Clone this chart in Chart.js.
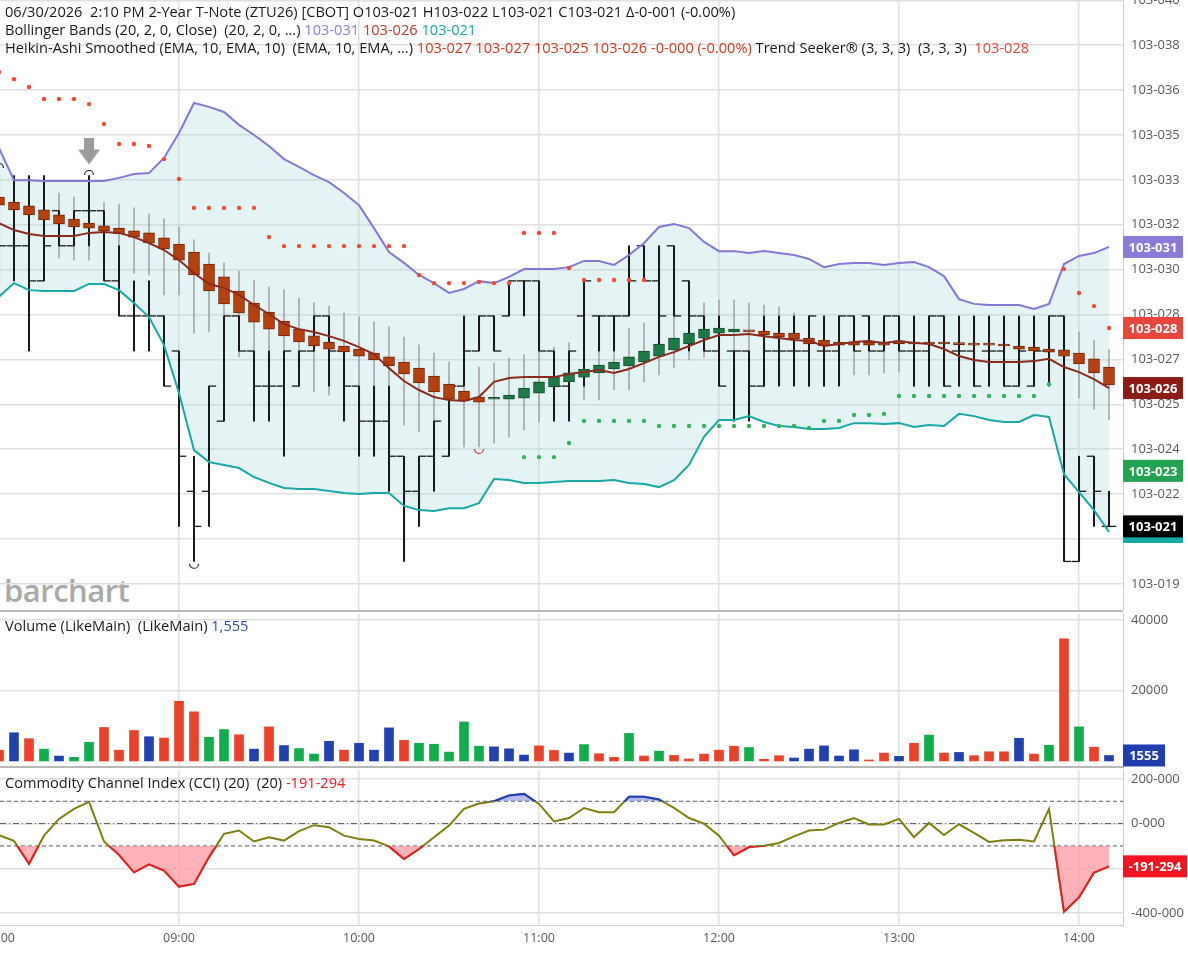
<!DOCTYPE html>
<html>
<head>
<meta charset="utf-8">
<title>ZTU26 chart</title>
<script src="https://cdn.jsdelivr.net/npm/chart.js@4.4.1/dist/chart.umd.min.js"></script>
<style>
body { margin: 0; background: #fff; }
#page { position: relative; width: 1188px; height: 953px; overflow: hidden; font-family: "Open Sans", sans-serif; }
.pane { position: absolute; left: -40px; width: 1228px; }
.legend { position: absolute; left: 5px; font-size: 14.6px; line-height: 18px; color: #1a1a1a; white-space: pre; z-index: 3; }
.sep { position: absolute; left: 0; width: 1123px; height: 2px; background: #b8b8b8; z-index: 2; }
#wm { position: absolute; left: 4px; top: 573px; font-size: 31px; line-height: 34px; font-weight: 600; color: #a9a9a9; letter-spacing: -0.5px; }
</style>
</head>
<body>
<div id="page">
  <div id="wm">barchart</div>
  <div class="pane" style="top:-20px;height:650px"><canvas id="priceChart"></canvas></div>
  <div class="pane" style="top:593px;height:195px"><canvas id="volChart"></canvas></div>
  <div class="pane" style="top:750px;height:203px"><canvas id="cciChart"></canvas></div>
  <div class="sep" style="top:610px"></div>
  <div class="sep" style="top:766px"></div>

  <div class="legend" style="top:2px">06/30/2026  2:10 PM 2-Year T-Note (ZTU26) [CBOT] O103-021 H103-022 L103-021 C103-021 Δ-0-001 (-0.00%)</div>
  <div class="legend" style="top:20px">Bollinger Bands (20, 2, 0, Close)  (20, 2, 0, ...) <span style="color:#8a7fd8">103-031</span> <span style="color:#c0392b">103-026</span> <span style="color:#14a8a0">103-021</span></div>
  <div class="legend" style="top:38px">Heikin-Ashi Smoothed (EMA, 10, EMA, 10)  (EMA, 10, EMA, ...) <span style="color:#cf3b22">103-027 103-027 103-025 103-026 -0-000 (-0.00%)</span> Trend Seeker® (3, 3, 3)  (3, 3, 3)  <span style="color:#e8453c">103-028</span></div>
  <div class="legend" style="top:616px">Volume (LikeMain)  (LikeMain) <span style="color:#2c4aa8">1,555</span></div>
  <div class="legend" style="top:773px">Commodity Channel Index (CCI) (20)  (20) <span style="color:#e8202a">-191-294</span></div>
</div>

<script>
// 5-minute bars, 08:00 .. 14:10; prices are 32nds above 103
const timeLabels = ['08:00', '09:00', '10:00', '11:00', '12:00', '13:00', '14:00'];
const hourBars = [0, 12, 24, 36, 48, 60, 72];

const barOpen = [
  3.125, 3.125, 3.125, 3.0, 3.25, 3.125, 3.25, 3.25, 3.0, 2.875,
  2.875, 2.875, 2.75, 2.25, 2.25, 2.5, 2.875, 2.75, 2.625, 2.625,
  2.625, 2.75, 2.875, 2.75, 2.625, 2.5, 2.5, 2.375, 2.25, 2.375,
  2.375, 2.625, 2.75, 2.875, 2.875, 3.0, 3.0, 2.75, 2.625, 2.875,
  2.875, 2.875, 2.875, 3.125, 3.0, 3.125, 3.0, 2.875, 2.75, 2.75,
  2.75, 2.625, 2.75, 2.75, 2.75, 2.75, 2.75, 2.875, 2.875, 2.75,
  2.875, 2.75, 2.75, 2.875, 2.75, 2.75, 2.75, 2.75, 2.625, 2.625,
  2.75, 2.875, 2.0, 2.375, 2.125
];
const barHigh = [
  3.375, 3.375, 3.375, 3.375, 3.25, 3.25, 3.375, 3.25, 3.125, 3.0,
  3.0, 2.875, 2.75, 2.375, 2.625, 2.875, 2.875, 2.75, 2.75, 2.75,
  2.75, 2.875, 2.875, 2.75, 2.625, 2.625, 2.625, 2.375, 2.375, 2.5,
  2.625, 2.875, 2.875, 2.875, 3.0, 3.0, 3.0, 2.75, 2.75, 3.0,
  2.875, 2.875, 3.125, 3.125, 3.125, 3.125, 3.0, 2.875, 2.875, 2.75,
  2.75, 2.875, 2.875, 2.875, 2.875, 2.875, 2.875, 2.875, 2.875, 2.875,
  2.875, 2.875, 2.875, 2.875, 2.875, 2.875, 2.875, 2.875, 2.875, 2.875,
  2.875, 2.875, 2.375, 2.375, 2.25
];
const barLow = [
  3.0, 3.0, 2.75, 3.0, 3.125, 3.125, 3.125, 3.0, 2.875, 2.75,
  2.75, 2.625, 2.125, 2.0, 2.125, 2.5, 2.75, 2.5, 2.5, 2.375,
  2.625, 2.75, 2.625, 2.5, 2.375, 2.375, 2.25, 2.0, 2.125, 2.25,
  2.375, 2.625, 2.75, 2.75, 2.875, 2.875, 2.75, 2.5, 2.5, 2.625,
  2.75, 2.75, 2.875, 3.0, 2.75, 2.875, 2.75, 2.75, 2.625, 2.5,
  2.5, 2.625, 2.625, 2.625, 2.625, 2.625, 2.625, 2.75, 2.75, 2.75,
  2.75, 2.625, 2.625, 2.625, 2.625, 2.625, 2.625, 2.625, 2.625, 2.625,
  2.625, 2.0, 2.0, 2.125, 2.125
];
const barClose = [
  3.125, 3.125, 3.0, 3.125, 3.125, 3.25, 3.25, 3.0, 2.875, 2.875,
  2.875, 2.625, 2.375, 2.125, 2.625, 2.875, 2.75, 2.625, 2.625, 2.75,
  2.75, 2.875, 2.75, 2.625, 2.5, 2.5, 2.375, 2.25, 2.375, 2.5,
  2.625, 2.75, 2.875, 2.75, 3.0, 3.0, 2.75, 2.625, 2.75, 3.0,
  2.875, 2.875, 3.0, 3.0, 2.875, 2.875, 2.875, 2.75, 2.625, 2.75,
  2.625, 2.75, 2.75, 2.75, 2.875, 2.75, 2.875, 2.75, 2.75, 2.875,
  2.75, 2.75, 2.875, 2.625, 2.75, 2.625, 2.75, 2.625, 2.75, 2.75,
  2.875, 2.0, 2.25, 2.25, 2.125
];

// Heikin-Ashi smoothed candles
const haOpen = [
  3.299, 3.281, 3.267, 3.253, 3.235, 3.220, 3.206, 3.196, 3.188, 3.178,
  3.171, 3.153, 3.131, 3.103, 3.060, 3.014, 2.964, 2.921, 2.889, 2.857,
  2.828, 2.804, 2.782, 2.768, 2.757, 2.743, 2.729, 2.711, 2.689, 2.661,
  2.632, 2.607, 2.586, 2.578, 2.578, 2.582, 2.600, 2.622, 2.640, 2.657,
  2.672, 2.686, 2.697, 2.711, 2.732, 2.754, 2.775, 2.796, 2.814, 2.818,
  2.825, 2.821, 2.814, 2.814, 2.796, 2.789, 2.782, 2.782, 2.782, 2.779,
  2.786, 2.779, 2.778, 2.778, 2.777, 2.775, 2.775, 2.775, 2.768, 2.764,
  2.757, 2.754, 2.743, 2.722, 2.693
];
const haClose = [
  3.270, 3.253, 3.235, 3.217, 3.203, 3.192, 3.188, 3.178, 3.167, 3.156,
  3.135, 3.114, 3.074, 3.021, 2.964, 2.918, 2.886, 2.853, 2.828, 2.804,
  2.782, 2.768, 2.757, 2.747, 2.732, 2.718, 2.697, 2.668, 2.636, 2.604,
  2.578, 2.572, 2.568, 2.578, 2.593, 2.618, 2.640, 2.657, 2.672, 2.686,
  2.700, 2.711, 2.729, 2.750, 2.775, 2.796, 2.814, 2.828, 2.832, 2.828,
  2.818, 2.807, 2.800, 2.793, 2.775, 2.768, 2.771, 2.771, 2.771, 2.771,
  2.775, 2.775, 2.775, 2.775, 2.773, 2.771, 2.771, 2.768, 2.757, 2.750,
  2.746, 2.732, 2.704, 2.672, 2.629
];
const haHigh = [
  3.359, 3.348, 3.338, 3.327, 3.313, 3.299, 3.288, 3.281, 3.274, 3.260,
  3.238, 3.221, 3.192, 3.146, 3.099, 3.064, 3.035, 3.003, 2.978, 2.968,
  2.939, 2.921, 2.910, 2.886, 2.872, 2.854, 2.836, 2.800, 2.772, 2.743,
  2.711, 2.700, 2.693, 2.707, 2.725, 2.736, 2.747, 2.764, 2.779, 2.779,
  2.789, 2.807, 2.832, 2.850, 2.871, 2.896, 2.907, 2.921, 2.932, 2.932,
  2.921, 2.914, 2.907, 2.886, 2.875, 2.875, 2.875, 2.868, 2.868, 2.868,
  2.875, 2.868, 2.868, 2.868, 2.860, 2.860, 2.853, 2.853, 2.843, 2.836,
  2.860, 2.860, 2.818, 2.789, 2.754
];
const haLow = [
  3.128, 3.117, 3.103, 3.085, 3.082, 3.074, 3.074, 3.067, 3.039, 3.028,
  3.021, 2.950, 2.950, 2.814, 2.818, 2.743, 2.729, 2.700, 2.675, 2.629,
  2.622, 2.604, 2.593, 2.576, 2.558, 2.541, 2.505, 2.487, 2.462, 2.433,
  2.408, 2.408, 2.408, 2.422, 2.444, 2.469, 2.497, 2.522, 2.540, 2.576,
  2.576, 2.611, 2.611, 2.640, 2.665, 2.690, 2.718, 2.725, 2.718, 2.700,
  2.675, 2.622, 2.629, 2.629, 2.622, 2.622, 2.672, 2.665, 2.665, 2.672,
  2.675, 2.622, 2.622, 2.622, 2.622, 2.622, 2.622, 2.622, 2.622, 2.622,
  2.629, 2.611, 2.583, 2.544, 2.505
];

// Bollinger Bands (20, 2)
const bbUpper = [
  3.474, 3.359, 3.359, 3.356, 3.356, 3.356, 3.356, 3.356, 3.367, 3.381,
  3.384, 3.438, 3.527, 3.634, 3.620, 3.602, 3.556, 3.520, 3.481, 3.434,
  3.406, 3.377, 3.352, 3.313, 3.270, 3.188, 3.103, 3.064, 3.021, 2.992,
  2.957, 2.971, 2.999, 2.992, 3.014, 3.042, 3.042, 3.042, 3.049, 3.071,
  3.071, 3.057, 3.092, 3.135, 3.192, 3.203, 3.188, 3.139, 3.106, 3.106,
  3.099, 3.106, 3.099, 3.092, 3.078, 3.049, 3.060, 3.064, 3.064, 3.057,
  3.064, 3.067, 3.049, 3.017, 2.935, 2.918, 2.914, 2.914, 2.914, 2.900,
  2.918, 3.060, 3.089, 3.099, 3.121
];
const bbMiddle = [
  3.206, 3.181, 3.167, 3.160, 3.160, 3.160, 3.171, 3.174, 3.171, 3.156,
  3.135, 3.110, 3.074, 3.028, 2.989, 2.975, 2.950, 2.914, 2.882, 2.846,
  2.828, 2.818, 2.803, 2.786, 2.764, 2.739, 2.689, 2.643, 2.611, 2.586,
  2.575, 2.572, 2.586, 2.640, 2.654, 2.657, 2.657, 2.657, 2.668, 2.675,
  2.682, 2.672, 2.686, 2.707, 2.729, 2.746, 2.768, 2.789, 2.807, 2.807,
  2.811, 2.803, 2.796, 2.789, 2.786, 2.768, 2.775, 2.782, 2.786, 2.779,
  2.786, 2.779, 2.775, 2.757, 2.732, 2.718, 2.711, 2.711, 2.711, 2.714,
  2.722, 2.693, 2.675, 2.650, 2.618
];
const bbLower = [
  2.943, 2.992, 2.967, 2.964, 2.964, 2.964, 2.989, 2.989, 2.967, 2.921,
  2.871, 2.771, 2.600, 2.397, 2.354, 2.344, 2.333, 2.301, 2.280, 2.262,
  2.258, 2.258, 2.251, 2.244, 2.240, 2.244, 2.244, 2.198, 2.183, 2.180,
  2.190, 2.190, 2.208, 2.294, 2.290, 2.280, 2.280, 2.283, 2.287, 2.287,
  2.287, 2.290, 2.280, 2.276, 2.265, 2.290, 2.344, 2.444, 2.504, 2.504,
  2.518, 2.497, 2.483, 2.479, 2.472, 2.472, 2.476, 2.493, 2.493, 2.490,
  2.493, 2.479, 2.486, 2.483, 2.526, 2.518, 2.504, 2.497, 2.497, 2.522,
  2.515, 2.311, 2.247, 2.183, 2.105
];

// Trend Seeker stops
const tsRed = [
  3.744, 3.719, 3.691, 3.648, 3.648, 3.648, 3.630, 3.559, 3.488, 3.488,
  3.481, 3.434, 3.363, 3.260, 3.260, 3.260, 3.260, 3.260, 3.156, 3.124,
  3.124, 3.124, 3.124, 3.124, 3.124, 3.124, 3.124, 3.124, 3.021, 2.992,
  2.992, 2.992, 2.996, 2.992, 2.992, 3.171, 3.171, 3.171, 3.046, 3.003,
  3.003, 3.003, 3.003, 3.003, null, null, null, null, null, null,
  null, null, null, null, null, null, null, null, null, null,
  null, null, null, null, null, null, null, null, null, null,
  null, 3.042, 2.957, 2.910, 2.832
];
const tsGreen = [
  null, null, null, null, null, null, null, null, null, null,
  null, null, null, null, null, null, null, null, null, null,
  null, null, null, null, null, null, null, null, null, null,
  null, null, null, null, null, 2.372, 2.372, 2.372, 2.422, 2.501,
  2.501, 2.501, 2.501, 2.501, 2.483, 2.483, 2.483, 2.483, 2.483, 2.483,
  2.483, 2.483, 2.483, 2.483, 2.476, 2.501, 2.501, 2.522, 2.522, 2.526,
  2.590, 2.590, 2.590, 2.590, 2.590, 2.590, 2.590, 2.590, 2.590, 2.590,
  2.632, null, null, null, null
];

const volume = [
  3070, 8000, 6330, 3350, 1400, 1020, 5300, 9490, 3070, 8650,
  6880, 6510, 16930, 13950, 6700, 8930, 7440, 3350, 9670, 4370,
  3530, 1950, 5580, 3070, 5020, 3070, 9400, 5860, 5020, 4740,
  2510, 11070, 4190, 4000, 3440, 1670, 4280, 2980, 2230, 4650,
  2050, 1020, 7810, 1400, 2790, 1580, 560, 1950, 3070, 4190,
  3810, 470, 1490, 840, 3350, 4280, 1400, 3160, 280, 2230,
  1300, 5020, 7350, 2230, 2420, 1490, 2600, 2600, 6420, 1950,
  4460, 34700, 9670, 3910, 1555
];
const volDir = [
  'dn', 'eq', 'dn', 'up', 'eq', 'up', 'up', 'dn', 'dn', 'dn',
  'eq', 'dn', 'dn', 'dn', 'up', 'up', 'dn', 'eq', 'dn', 'eq',
  'up', 'up', 'eq', 'dn', 'eq', 'eq', 'eq', 'dn', 'up', 'up',
  'up', 'up', 'up', 'eq', 'eq', 'eq', 'dn', 'dn', 'eq', 'up',
  'dn', 'dn', 'up', 'dn', 'up', 'dn', 'dn', 'dn', 'dn', 'dn',
  'up', 'dn', 'dn', 'eq', 'eq', 'eq', 'eq', 'eq', 'dn', 'dn',
  'eq', 'dn', 'up', 'dn', 'eq', 'dn', 'dn', 'dn', 'eq', 'dn',
  'up', 'dn', 'up', 'dn', 'eq'
];

const cci = [
  -52, -77, -180, -54, 21, 66, 97, -80, -140, -218,
  -182, -210, -282, -270, -150, -46, -31, -80, -61, -76,
  -34, -7, -16, -54, -69, -76, -102, -159, -114, -61,
  -9, 66, 90, 100, 126, 133, 88, 10, 25, 70,
  51, 51, 120, 120, 108, 70, 25, 0, -54, -142,
  -105, -99, -87, -57, -31, -27, 3, 25, -4, -4,
  21, -61, 3, -51, -3, -42, -82, -75, -72, -80,
  66, -394, -330, -219, -191.294
];

const priceTicks = [1.92, 2.08, 2.24, 2.40, 2.56, 2.72, 2.88, 3.04, 3.20, 3.36, 3.52, 3.68, 3.84, 4.00];
const priceTickLabels = ['103-019', '103-020', '103-022', '103-024', '103-025', '103-027', '103-028',
  '103-030', '103-032', '103-033', '103-035', '103-036', '103-038', '103-040'];
const volTicks = [20000, 40000];
const volTickLabels = ['20000', '40000'];
const cciTicks = [-400, -200, 0, 200];
const cciTickLabels = ['-400-000', '-200-000', '0-000', '200-000'];
const cciLevels = [100, 0, -100];

// swing markers
const swingHighs = [{bar: 0, value: 3.413}, {bar: 6, value: 3.388}];
const swingLows = [{bar: 13, value: 1.981}];
const haSwingLows = [{bar: 32, value: 2.390}];
const signalArrows = [{bar: 6, value: 3.461}];

const X_MIN = 1 / 15, X_MAX = 74.933;
const GRID = '#e0e0e0';
const AXIS_TEXT = '#5a5a5a';
const PAD = 20;

Chart.defaults.font.family = '"Open Sans", sans-serif';
Chart.defaults.font.size = 13;

const idx = barOpen.map((_, i) => i);
const pts = arr => arr.map((v, i) => ({x: i, y: v})).filter(p => p.y !== null);

function xAxis(showLabels) {
  return {
    type: 'linear', min: X_MIN, max: X_MAX, offset: false,
    afterBuildTicks: s => { s.ticks = hourBars.map(v => ({value: v})); },
    afterFit: showLabels ? (s => { s.height = 28; }) : undefined,
    grid: {color: GRID, lineWidth: 1.5, drawTicks: false, offset: false},
    border: {display: showLabels, color: '#cccccc'},
    ticks: {
      display: showLabels, color: AXIS_TEXT, padding: 6, maxRotation: 0, autoSkip: false,
      font: {size: 12.5},
      callback: (v, i) => timeLabels[i]
    }
  };
}

function yAxis(min, max, ticks, labels) {
  return {
    position: 'right', min: min, max: max,
    afterBuildTicks: s => { s.ticks = ticks.map(v => ({value: v})); },
    afterFit: s => { s.width = 65; },
    grid: {color: GRID, lineWidth: 1.5, drawTicks: false},
    border: {display: true, color: '#cccccc'},
    ticks: {color: AXIS_TEXT, padding: 8, callback: (v, i) => labels[i]}
  };
}

// coloured value boxes on the right axis
const axisBoxes = {
  id: 'axisBoxes',
  afterDraw(chart, args, opts) {
    const ctx = chart.ctx, y = chart.scales.y;
    ctx.save();
    ctx.font = 'bold 13px "Open Sans", sans-serif';
    ctx.textBaseline = 'middle';
    ctx.textAlign = 'center';
    (opts.items || []).forEach(b => {
      const py = y.getPixelForValue(b.value);
      ctx.fillStyle = b.color;
      ctx.fillRect(y.left, py - 11, b.width, 22);
      ctx.fillStyle = '#fff';
      ctx.fillText(b.text, y.left + b.width / 2, py + 1);
    });
    ctx.restore();
  }
};

// clip a dataset stroke to one side of a level
const bandClip = {
  id: 'bandClip',
  beforeDatasetDraw(chart, args) {
    const ds = chart.data.datasets[args.index];
    if (!ds.clipTo) return;
    const ctx = chart.ctx, a = chart.chartArea;
    const py = chart.scales.y.getPixelForValue(ds.clipTo.value);
    ctx.save();
    ctx.beginPath();
    if (ds.clipTo.side === 'below') ctx.rect(a.left, py, a.width, a.bottom - py);
    else ctx.rect(a.left, a.top, a.width, py - a.top);
    ctx.clip();
  },
  afterDatasetDraw(chart, args) {
    if (chart.data.datasets[args.index].clipTo) chart.ctx.restore();
  }
};

function arcMark(color, up) {
  const c = document.createElement('canvas');
  c.width = 12; c.height = 8;
  const g = c.getContext('2d');
  g.strokeStyle = color; g.lineWidth = 1.2;
  g.beginPath();
  if (up) g.arc(6, 7, 4.5, Math.PI, 0);
  else g.arc(6, 1, 4.5, 0, Math.PI);
  g.stroke();
  return c;
}
function arrowMark() {
  const c = document.createElement('canvas');
  c.width = 22; c.height = 28;
  const g = c.getContext('2d');
  g.fillStyle = '#9b9b9b';
  g.fillRect(6, 0, 10, 14);
  g.beginPath(); g.moveTo(0, 12); g.lineTo(22, 12); g.lineTo(11, 27); g.closePath(); g.fill();
  return c;
}
const markPts = arr => arr.map(m => ({x: m.bar, y: m.value}));

const haUp = haOpen.map((o, i) => haClose[i] >= o);

const baseOpts = {
  responsive: true, maintainAspectRatio: false, animation: false,
  events: []
};

new Chart(document.getElementById('priceChart'), {
  type: 'bar',
  data: {
    datasets: [
      {type: 'line', label: 'BB upper', data: pts(bbUpper), borderColor: '#8577d6', borderWidth: 2,
        pointRadius: 0, fill: '+1', backgroundColor: 'rgba(150,210,210,0.26)', order: 5},
      {type: 'line', label: 'BB lower', data: pts(bbLower), borderColor: '#17a9a6', borderWidth: 2,
        pointRadius: 0, fill: false, order: 5},
      {type: 'line', label: 'BB middle', data: pts(bbMiddle), borderColor: '#8c2a1c', borderWidth: 2,
        pointRadius: 0, fill: false, order: 4},
      {label: 'HA wick', data: idx.map(i => ({x: i, y: [haLow[i], haHigh[i]]})),
        backgroundColor: '#a8a8a8', barThickness: 1, grouped: false, order: 9},
      {label: 'OHLC', data: idx.map(i => ({x: i, y: [barLow[i], barHigh[i]]})),
        backgroundColor: '#1a1a1a', barThickness: 1.4, grouped: false, order: 8},
      {type: 'line', label: 'Open', data: idx.map(i => ({x: i - 0.24, y: barOpen[i]})), showLine: false,
        pointStyle: 'line', pointRadius: 3.6, pointBorderWidth: 1.3, pointBorderColor: '#1a1a1a', order: 8},
      {type: 'line', label: 'Close', data: idx.map(i => ({x: i + 0.24, y: barClose[i]})), showLine: false,
        pointStyle: 'line', pointRadius: 3.6, pointBorderWidth: 1.3, pointBorderColor: '#1a1a1a', order: 8},
      {label: 'HA body', data: idx.map(i => ({x: i, y: [haOpen[i], haClose[i]]})),
        backgroundColor: haUp.map(u => u ? '#1d7a46' : '#b7400f'),
        borderColor: haUp.map(u => u ? '#0e4d2b' : '#6e2305'),
        borderWidth: 1, borderSkipped: false, barThickness: 11, minBarLength: 2, grouped: false, order: 6},
      {type: 'line', label: 'Trend Seeker down', data: pts(tsRed), showLine: false, pointRadius: 2.2,
        pointBackgroundColor: '#ee4b36', pointBorderWidth: 0, order: 3},
      {type: 'line', label: 'Trend Seeker up', data: pts(tsGreen), showLine: false, pointRadius: 2.2,
        pointBackgroundColor: '#33b35f', pointBorderWidth: 0, order: 3},
      {type: 'line', label: 'Swing high', data: markPts(swingHighs), showLine: false,
        pointStyle: arcMark('#222', true), order: 2},
      {type: 'line', label: 'Swing low', data: markPts(swingLows), showLine: false,
        pointStyle: arcMark('#222', false), order: 2},
      {type: 'line', label: 'HA swing low', data: markPts(haSwingLows), showLine: false,
        pointStyle: arcMark('#c0392b', false), order: 2},
      {type: 'line', label: 'Signal', data: markPts(signalArrows), showLine: false,
        pointStyle: arrowMark(), order: 2}
    ]
  },
  options: Object.assign({}, baseOpts, {
    layout: {padding: {left: 40, top: PAD, right: 0, bottom: PAD}},
    plugins: {
      legend: {display: false}, tooltip: {enabled: false},
      filler: {drawTime: 'beforeDatasetsDraw'},
      axisBoxes: {items: [
        {value: bbUpper[74], text: '103-031', color: '#8c7ad8', width: 60},
        {value: tsRed[74], text: '103-028', color: '#e8453c', width: 60},
        {value: bbMiddle[74], text: '103-026', color: '#8b1c16', width: 60},
        {value: 2.323, text: '103-023', color: '#22a350', width: 60},
        {value: bbLower[74], text: '103-021', color: '#17a9a6', width: 60},
        {value: barClose[74], text: '103-021', color: '#000000', width: 60}
      ]}
    },
    scales: {x: xAxis(false), y: yAxis(1.827, 4.001, priceTicks, priceTickLabels)}
  }),
  plugins: [axisBoxes]
});

const volColor = {up: '#0fae4b', dn: '#ea4228', eq: '#2141b0'};
new Chart(document.getElementById('volChart'), {
  type: 'bar',
  data: {
    datasets: [{
      label: 'Volume', data: pts(volume),
      backgroundColor: volDir.map(d => volColor[d]),
      barThickness: 9, grouped: false
    }]
  },
  options: Object.assign({}, baseOpts, {
    layout: {padding: {left: 40, top: PAD, right: 0, bottom: PAD}},
    plugins: {
      legend: {display: false}, tooltip: {enabled: false},
      axisBoxes: {items: [{value: volume[74], text: '1555', color: '#1f3fae', width: 42}]}
    },
    scales: {x: xAxis(false), y: yAxis(-2000, 42000, volTicks, volTickLabels)}
  }),
  plugins: [axisBoxes]
});

const levelLine = (v, dash) => ({
  type: 'line', label: 'level ' + v, data: [{x: X_MIN, y: v}, {x: X_MAX, y: v}],
  borderColor: '#555', borderWidth: 1, borderDash: dash, pointRadius: 0, fill: false, order: 5
});
new Chart(document.getElementById('cciChart'), {
  type: 'line',
  data: {
    datasets: [
      levelLine(cciLevels[0], [4, 3]),
      levelLine(cciLevels[1], [6, 3, 1, 3]),
      levelLine(cciLevels[2], [4, 3]),
      {label: 'CCI', data: pts(cci), borderColor: '#7f7f0f', borderWidth: 2, pointRadius: 0, fill: false, order: 3},
      {label: 'CCI oversold', data: pts(cci), borderColor: '#e41e26', borderWidth: 2, pointRadius: 0,
        fill: {target: {value: -100}, above: 'rgba(0,0,0,0)', below: 'rgba(255,160,168,0.8)'},
        clipTo: {value: -100, side: 'below'}, order: 2},
      {label: 'CCI overbought', data: pts(cci), borderColor: '#1f3fbf', borderWidth: 2, pointRadius: 0,
        fill: {target: {value: 100}, above: 'rgba(150,160,230,0.7)', below: 'rgba(0,0,0,0)'},
        clipTo: {value: 100, side: 'above'}, order: 2}
    ]
  },
  options: Object.assign({}, baseOpts, {
    layout: {padding: {left: 40, top: PAD, right: 0, bottom: 0}},
    plugins: {
      legend: {display: false}, tooltip: {enabled: false},
      axisBoxes: {items: [{value: cci[74], text: '-191-294', color: '#f0141e', width: 64}]}
    },
    scales: {x: xAxis(true), y: yAxis(-454, 240, cciTicks, cciTickLabels)}
  }),
  plugins: [axisBoxes, bandClip]
});
</script>
</body>
</html>
